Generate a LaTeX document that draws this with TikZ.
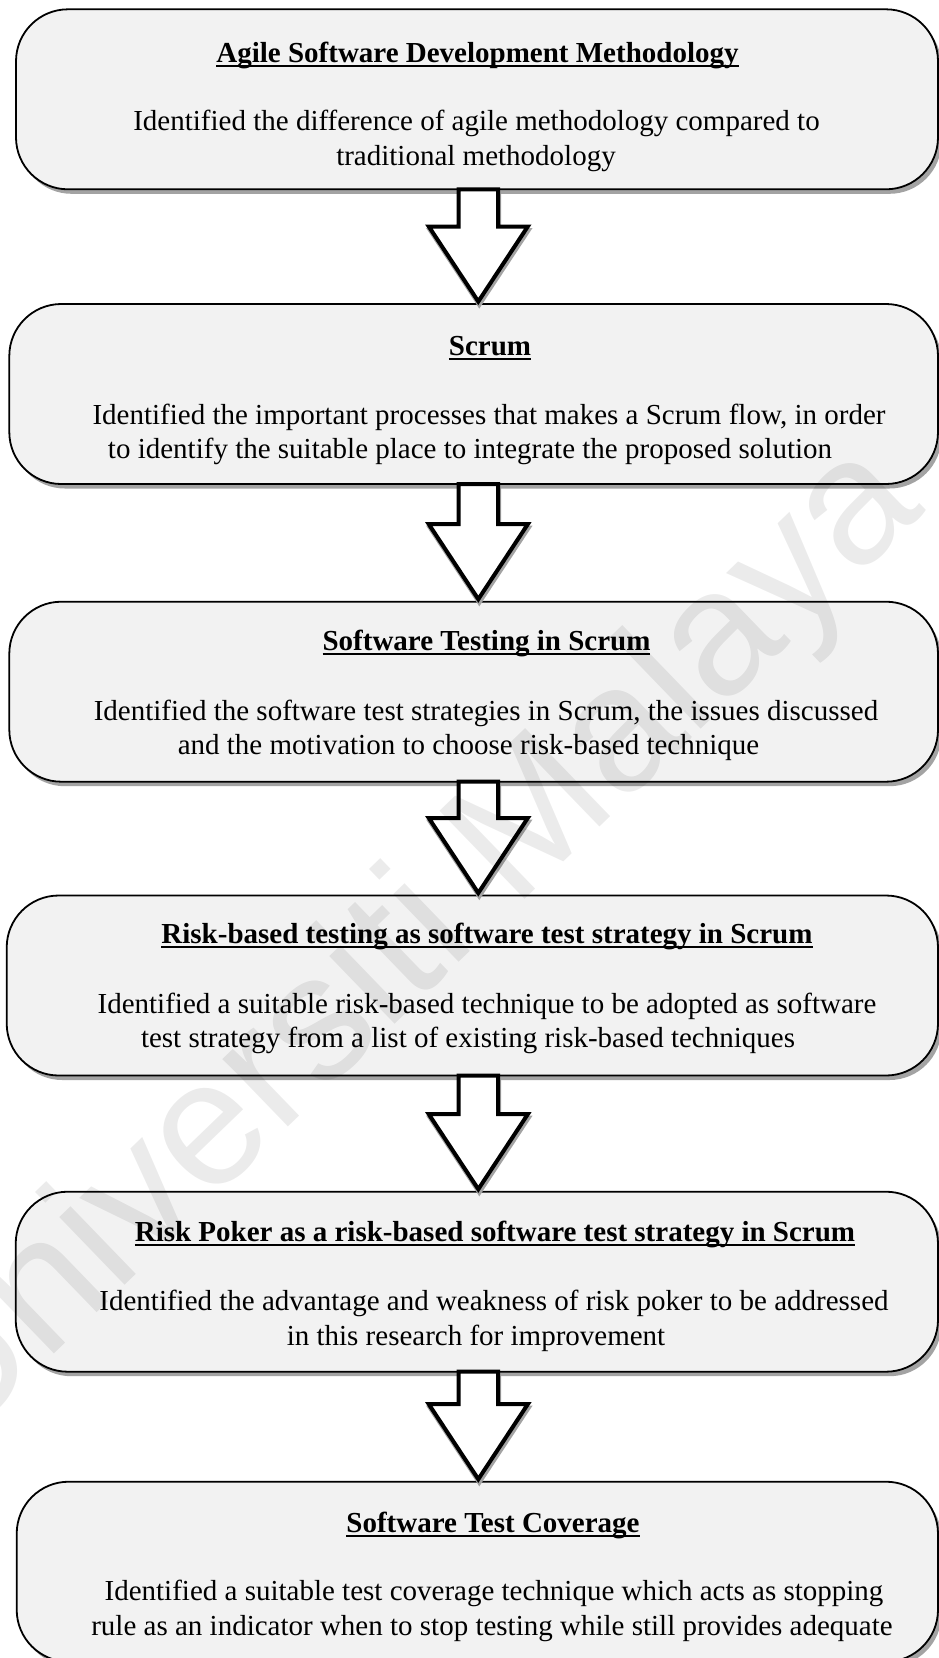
\documentclass[tikz,border=0pt]{standalone}
\usepackage{fontspec}
\setmainfont{Liberation Serif}
\newfontfamily\wmfont{Liberation Sans}
\usetikzlibrary{calc,shadows}

\definecolor{boxfill}{HTML}{F2F2F2}
\definecolor{shadowgray}{HTML}{A3A3A3}

\tikzset{
  stagebox/.style={draw=black, line width=1.8pt, fill=boxfill, rounded corners=52pt,
    minimum height=180pt, outer sep=0pt, inner sep=0pt,
    drop shadow={shadow xshift=3.5pt, shadow yshift=-4.5pt, fill=shadowgray, opacity=1}},
  heading/.style={anchor=base, inner sep=0pt, outer sep=0pt,
    font=\fontsize{29}{35}\selectfont\bfseries},
  bodyline/.style={anchor=base, inner sep=0pt, outer sep=0pt,
    font=\fontsize{29}{35}\selectfont},
  headrule/.style={line width=2.6pt},
  flowarrow/.style={draw=black, fill=white, line width=4pt, line join=miter},
  arrowshade/.style={draw=shadowgray, fill=shadowgray, line width=4pt, line join=miter},
  watermark/.style={font=\wmfont\fontsize{178}{178}\selectfont, text=black, text opacity=0.08}
}

% block arrow from the bottom of one stage box to the top of the next
\newcommand\arrowoutline[4]{%
  ($(#1)+(-19.7+#3,#4)$) -- ($(#2)+(-19.7+#3,-75+#4)$) -- ($(#2)+(-49.5+#3,-75+#4)$) --
  ($(#2)+(#3,#4)$) -- ($(#2)+(49.5+#3,-75+#4)$) -- ($(#2)+(19.7+#3,-75+#4)$) --
  ($(#1)+(19.7+#3,#4)$) -- cycle}
\newcommand\stagearrow[2]{%
  \coordinate (#1-top) at (#1.south -| ax);
  \coordinate (#1-tip) at ($(#2.north -| ax)+(0,-2.5)$);
  \filldraw[arrowshade] \arrowoutline{#1-top}{#1-tip}{1}{3.5};
  \filldraw[flowarrow] \arrowoutline{#1-top}{#1-tip}{0}{0};
}

% underlined heading
\newcommand\stageheading[3]{%
  \node[heading] (#1) at (#2) {#3};
  \draw[headrule] ([yshift=-4pt]#1.base west) -- ([yshift=-4pt]#1.base east);
}

\begin{document}
\begin{tikzpicture}[x=1pt, y=-1pt]
\useasboundingbox (0,0) rectangle (939,1658);
\coordinate (ax) at (478.3,0);

% stage boxes
\node[stagebox, minimum width=922pt]   (b1) at (477,99.3)    {};
\node[stagebox, minimum width=928.7pt] (b2) at (473.65,394)  {};
\node[stagebox, minimum width=928.7pt] (b3) at (473.65,691.7) {};
\node[stagebox, minimum width=931.3pt] (b4) at (472.35,985.5) {};
\node[stagebox, minimum width=922.3pt] (b5) at (476.85,1281.7) {};
\node[stagebox, minimum width=921.3pt] (b6) at (477.35,1571.7) {};

% block arrows between the stages
\stagearrow{b1}{b2}
\stagearrow{b2}{b3}
\stagearrow{b3}{b4}
\stagearrow{b4}{b5}
\stagearrow{b5}{b6}

% stage 1
\stageheading{t1}{477.5,62}{Agile Software Development Methodology}
\node[bodyline] (d1a) at (476.5,130) {Identified the difference of agile methodology compared to};
\node[bodyline] (d1b) at (476,165) {traditional methodology};

% stage 2
\stageheading{t2}{490,355}{Scrum}
\node[bodyline] (d2a) at (489,424) {Identified the important processes that makes a Scrum flow, in order};
\node[bodyline] (d2b) at (470,458) {to identify the suitable place to integrate the proposed solution};

% stage 3
\stageheading{t3}{486.5,650}{Software Testing in Scrum}
\node[bodyline] (d3a) at (486,720) {Identified the software test strategies in Scrum, the issues discussed};
\node[bodyline] (d3b) at (468.5,754) {and the motivation to choose risk-based technique};

% stage 4
\stageheading{t4}{487,943}{Risk-based testing as software test strategy in Scrum}
\node[bodyline] (d4a) at (487,1013) {Identified a suitable risk-based technique to be adopted as software};
\node[bodyline] (d4b) at (468,1047) {test strategy from a list of existing risk-based techniques};

% stage 5
\stageheading{t5}{495,1241}{Risk Poker as a risk-based software test strategy in Scrum}
\node[bodyline] (d5a) at (494,1310) {Identified the advantage and weakness of risk poker to be addressed};
\node[bodyline] (d5b) at (476,1345) {in this research for improvement};

% stage 6
\stageheading{t6}{493,1532}{Software Test Coverage}
\node[bodyline] (d6a) at (494,1600) {Identified a suitable test coverage technique which acts as stopping};
\node[bodyline] (d6b) at (492,1635) {rule as an indicator when to stop testing while still provides adequate};

% faint diagonal watermark
\node[watermark, rotate=44] (wm) at (408,948) {Universiti Malaya};
\end{tikzpicture}
\end{document}
